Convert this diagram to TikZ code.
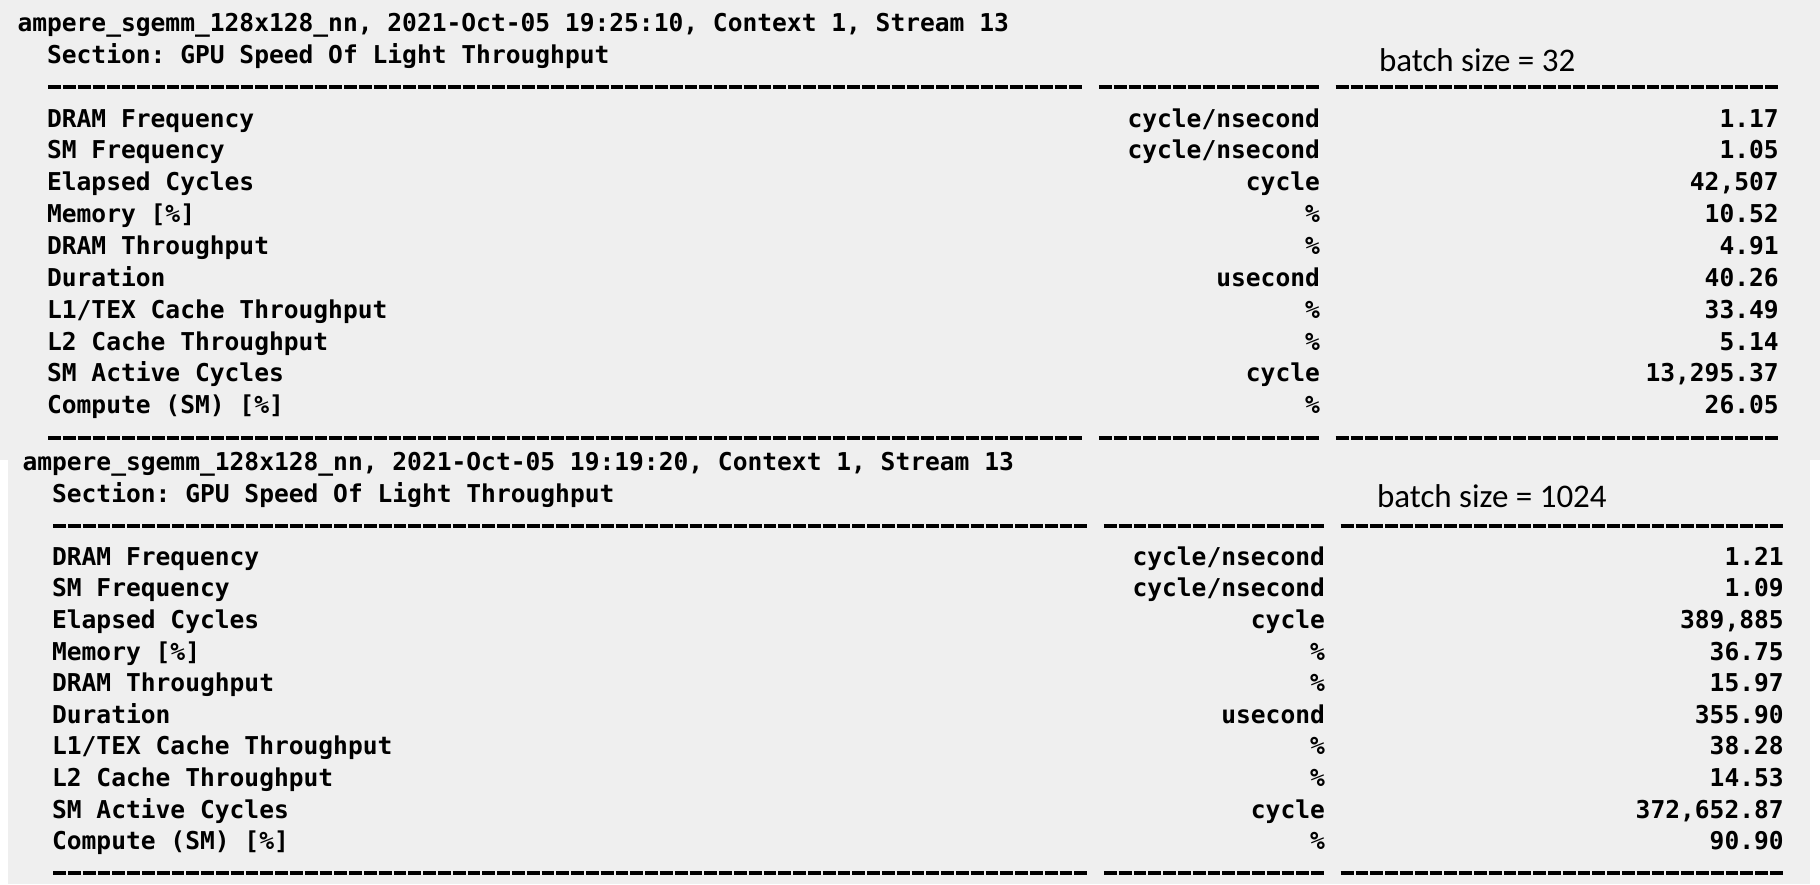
\documentclass[tikz,border=0pt]{standalone}
\usepackage{fontspec}
\newfontfamily\monofam{DejaVu Sans Mono}
\newfontfamily\labfam{Carlito}
\definecolor{bggray}{RGB}{239,239,239}
\frenchspacing
\def\cw{14.8}
% #1 prefix, #2 x0, #3 baseline
\newcommand\putrow[6]{%
  \node[mono,anchor=base west] (#1n) at ({#2+2*\cw},#3) {#4};
  \node[mono,anchor=base east] (#1u) at ({#2+88*\cw},#3) {#5};
  \node[mono,anchor=base east] (#1v) at ({#2+119*\cw},#3) {#6};}
% #1 x0, #2 y of rule
\newcommand\putrules[2]{%
  \draw[termrule] ({#1+2*\cw+1},#2) -- ({#1+72*\cw-1},#2);
  \draw[termrule] ({#1+73*\cw+1},#2) -- ({#1+88*\cw-1},#2);
  \draw[termrule] ({#1+89*\cw+1},#2) -- ({#1+119*\cw-1},#2);}
\begin{document}
\begin{tikzpicture}[x=1pt,y=-1pt,
  mono/.style={inner sep=0pt,outer sep=0pt,text=black,
    font=\monofam\bfseries\frenchspacing\fontsize{24.58}{28}\selectfont},
  lab/.style={inner sep=0pt,outer sep=0pt,anchor=base west,text=black,
    font=\labfam\fontsize{33}{38}\selectfont},
  termrule/.style={line width=4pt,line cap=butt,black,dash pattern=on 12.8pt off 2pt}]
\useasboundingbox (0,0) rectangle (1820,884);
\fill[white] (0,0) rectangle (1820,884);
\fill[bggray] (0,0) rectangle (1820,460);
\fill[bggray] (8,445) rectangle (1810,884);
% ---------------- top block ----------------
\def\xt{17.5}
\node[mono,anchor=base west] (tk) at (\xt,31.5) {ampere\_sgemm\_128x128\_nn, 2021-Oct-05 19:25:10, Context 1, Stream 13};
\node[mono,anchor=base west] (ts) at ({\xt+2*\cw},63.35) {Section: GPU Speed Of Light Throughput};
\node[lab] (tb) at (1379,71.7) {batch size = 32};
\putrules{\xt}{87.2}
\putrow{ta}{\xt}{127.05}{DRAM Frequency}{cycle/nsecond}{1.17}
\putrow{tb}{\xt}{158.9}{SM Frequency}{cycle/nsecond}{1.05}
\putrow{tc}{\xt}{190.75}{Elapsed Cycles}{cycle}{42,507}
\putrow{td}{\xt}{222.6}{Memory [\%]}{\%}{10.52}
\putrow{te}{\xt}{254.45}{DRAM Throughput}{\%}{4.91}
\putrow{tf}{\xt}{286.3}{Duration}{usecond}{40.26}
\putrow{tg}{\xt}{318.15}{L1/TEX Cache Throughput}{\%}{33.49}
\putrow{th}{\xt}{350.0}{L2 Cache Throughput}{\%}{5.14}
\putrow{ti}{\xt}{381.85}{SM Active Cycles}{cycle}{13,295.37}
\putrow{tj}{\xt}{413.7}{Compute (SM) [\%]}{\%}{26.05}
\putrules{\xt}{437.6}
% ---------------- bottom block ----------------
\def\xb{22.5}
\node[mono,anchor=base west] (bk) at (\xb,470.5) {ampere\_sgemm\_128x128\_nn, 2021-Oct-05 19:19:20, Context 1, Stream 13};
\node[mono,anchor=base west] (bs) at ({\xb+2*\cw},502.1) {Section: GPU Speed Of Light Throughput};
\node[lab] (bb) at (1377,507) {batch size = 1024};
\putrules{\xb}{525.7}
\putrow{ba}{\xb}{565.3}{DRAM Frequency}{cycle/nsecond}{1.21}
\putrow{bb}{\xb}{596.9}{SM Frequency}{cycle/nsecond}{1.09}
\putrow{bc}{\xb}{628.5}{Elapsed Cycles}{cycle}{389,885}
\putrow{bd}{\xb}{660.1}{Memory [\%]}{\%}{36.75}
\putrow{be}{\xb}{691.7}{DRAM Throughput}{\%}{15.97}
\putrow{bf}{\xb}{723.3}{Duration}{usecond}{355.90}
\putrow{bg}{\xb}{754.9}{L1/TEX Cache Throughput}{\%}{38.28}
\putrow{bh}{\xb}{786.5}{L2 Cache Throughput}{\%}{14.53}
\putrow{bi}{\xb}{818.1}{SM Active Cycles}{cycle}{372,652.87}
\putrow{bj}{\xb}{849.7}{Compute (SM) [\%]}{\%}{90.90}
\putrules{\xb}{873.3}
\end{tikzpicture}
\end{document}
